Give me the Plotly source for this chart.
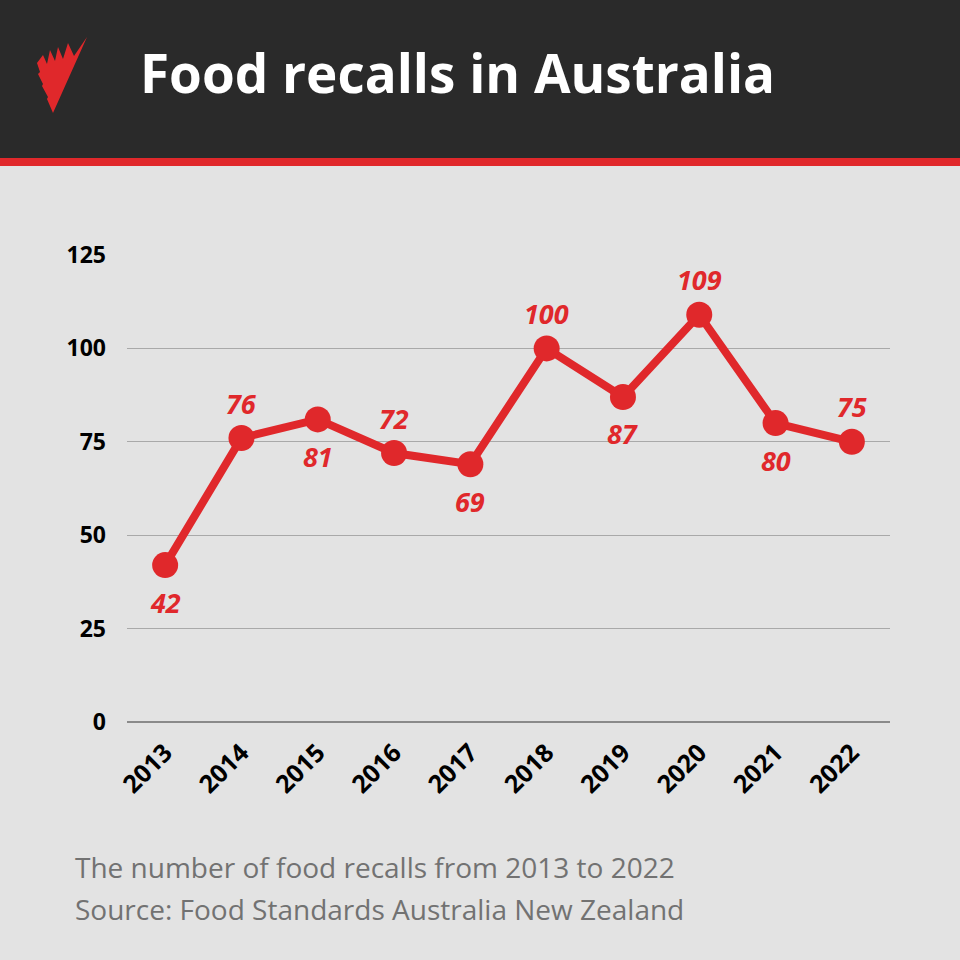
import plotly.graph_objects as go

years = ["2013", "2014", "2015", "2016", "2017", "2018", "2019", "2020", "2021", "2022"]
recalls = [42, 76, 81, 72, 69, 100, 87, 109, 80, 75]
label_side = ["below", "above", "below", "above", "below", "above", "below", "above", "below", "above"]
y_ticks = [0, 25, 50, 75, 100, 125]

RED = "#e0282b"
BG = "#e3e3e3"
W, H = 960, 960
L, R, T, B = 127, 70, 255, 238
PW, PH = W - L - R, H - T - B

def px(x):
    return (x - L) / PW

def py(y):
    return (H - B - y) / PH

fig = go.Figure()
fig.add_trace(go.Scatter(
    x=years, y=recalls, mode="lines+markers",
    line=dict(color=RED, width=8),
    marker=dict(color=RED, size=26),
    hoverinfo="skip", showlegend=False,
))

annotations = []
for i, (v, side) in enumerate(zip(recalls, label_side)):
    annotations.append(dict(
        x=i, y=v, xref="x", yref="y", text=str(v), showarrow=False,
        yshift=35 if side == "above" else -37,
        font=dict(family="Open Sans", size=27, color=RED, weight="bold", style="italic"),
    ))

annotations.append(dict(
    x=px(138), y=py(73), xref="paper", yref="paper", xanchor="left", yanchor="middle",
    text="<b>Food recalls in Australia</b>", showarrow=False,
    font=dict(family="Open Sans", size=53, color="white"),
))
annotations.append(dict(
    x=px(73), y=py(867), xref="paper", yref="paper", xanchor="left", yanchor="middle",
    text="The number of food recalls from 2013 to 2022", showarrow=False,
    font=dict(family="Open Sans", size=28, color="#727272"),
))
annotations.append(dict(
    x=px(73), y=py(909), xref="paper", yref="paper", xanchor="left", yanchor="middle",
    text="Source: Food Standards Australia New Zealand", showarrow=False,
    font=dict(family="Open Sans", size=28, color="#727272"),
))

shapes = [
    dict(type="rect", xref="paper", yref="paper", x0=px(0), x1=px(960), y0=py(0), y1=py(158),
         fillcolor="#2a2a2a", line_width=0, layer="below"),
    dict(type="rect", xref="paper", yref="paper", x0=px(0), x1=px(960), y0=py(158), y1=py(166),
         fillcolor=RED, line_width=0, layer="below"),
]

logo_pts = [(53, 113), (87, 37), (74, 56), (68, 43), (63, 59), (58, 47), (55, 61), (50, 50),
            (47, 64), (43, 55), (37, 63), (40, 72), (38, 74), (43, 84), (42, 86), (48, 97), (47, 99)]
path = "M " + " L ".join(f"{px(a):.5f},{py(b):.5f}" for a, b in logo_pts) + " Z"
shapes.append(dict(type="path", xref="paper", yref="paper", path=path,
                   fillcolor=RED, line_width=0, layer="above"))

fig.update_layout(
    width=W, height=H,
    margin=dict(l=L, r=R, t=T, b=B),
    paper_bgcolor=BG, plot_bgcolor=BG,
    annotations=annotations, shapes=shapes,
    xaxis=dict(type="category", categoryarray=years, range=[-0.5, len(years) - 0.5],
               tickangle=-45, showgrid=False, showline=False, zeroline=False,
               tickfont=dict(family="Open Sans", size=25, color="black", weight="bold"),
               ticklabelstandoff=10, ticks="", fixedrange=True),
    yaxis=dict(range=[0, 125], tickvals=y_ticks, showgrid=True, gridcolor="#a9a9a9", gridwidth=1,
               zeroline=True, zerolinecolor="#8a8a8a", zerolinewidth=1.5,
               tickfont=dict(family="Open Sans", size=23, color="black", weight="bold"),
               ticklabelstandoff=20, ticks="", fixedrange=True),
)

fig.write_html("out.html")
